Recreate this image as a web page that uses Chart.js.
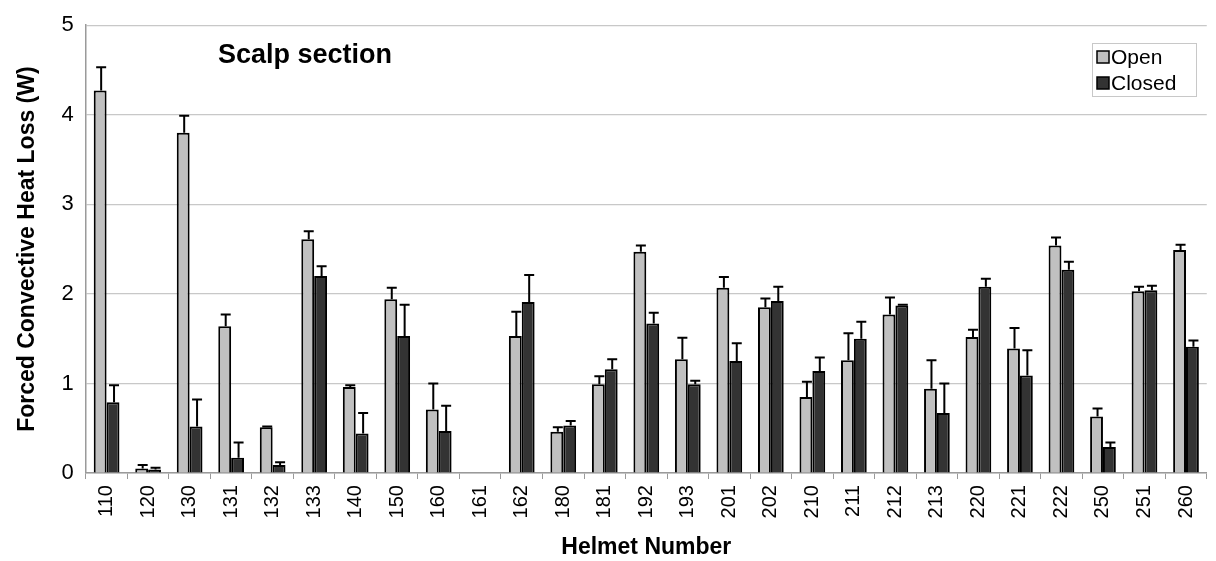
<!DOCTYPE html>
<html>
<head>
<meta charset="utf-8">
<script src="https://cdn.jsdelivr.net/npm/chart.js@4.4.1/dist/chart.umd.min.js"></script>
<style>
  html, body { margin: 0; padding: 0; background: #fff; }
  #wrap { width: 1216px; height: 561px; }
</style>
</head>
<body>
<div id="wrap"><canvas id="chart"></canvas></div>
<script>
// helmet numbers
const helmets = ["110","120","130","131","132","133","140","150","160","161","162","180","181","192","193","201","202","210","211","212","213","220","221","222","250","251","260"];

// mean forced convective heat loss (W)
const openValues = [4.27,0.05,3.80,1.64,0.51,2.61,0.96,1.94,0.71,0.005,1.53,0.46,0.99,2.47,1.27,2.07,1.85,0.85,1.26,1.77,0.94,1.52,1.39,2.54,0.63,2.03,2.49];
const closedValues = [0.79,0.04,0.52,0.17,0.09,2.20,0.44,1.53,0.47,0.005,1.91,0.53,1.16,1.67,0.99,1.25,1.92,1.14,1.50,1.87,0.67,2.08,1.09,2.27,0.29,2.04,1.41];

// upper error (sd)
const openErr = [0.26,0.04,0.19,0.13,0.01,0.09,0.02,0.13,0.29,0,0.27,0.05,0.09,0.07,0.24,0.12,0.10,0.17,0.30,0.19,0.32,0.08,0.23,0.09,0.09,0.05,0.06];
const closedErr = [0.19,0.02,0.30,0.17,0.03,0.11,0.23,0.35,0.28,0,0.30,0.05,0.11,0.12,0.04,0.20,0.16,0.15,0.19,0.01,0.33,0.09,0.28,0.09,0.05,0.05,0.07];

const yTicks = [0, 1, 2, 3, 4, 5];

const FONT = "'Liberation Sans', Arial, sans-serif";

// draws the upper error bars on top of each bar
const errorBars = {
	id: "errorBars",
	afterDatasetsDraw(chart) {
		const ctx = chart.ctx;
		const yScale = chart.scales.y;
		const errs = [openErr, closedErr];
		ctx.save();
		ctx.strokeStyle = "#000";
		ctx.lineWidth = 2;
		chart.data.datasets.forEach((ds, i) => {
			const meta = chart.getDatasetMeta(i);
			meta.data.forEach((bar, j) => {
				const e = errs[i][j];
				if (!e) return;
				const yTop = yScale.getPixelForValue(ds.data[j] + e);
				const x = bar.x + 1;
				ctx.beginPath();
				ctx.moveTo(x, bar.y);
				ctx.lineTo(x, yTop);
				ctx.moveTo(x - 5, yTop);
				ctx.lineTo(x + 5, yTop);
				ctx.stroke();
			});
		});
		ctx.restore();
	}
};

// section label and boxed legend inside the plot
const overlay = {
	id: "overlay",
	afterDraw(chart) {
		const ctx = chart.ctx;
		ctx.save();
		ctx.fillStyle = "#000";
		ctx.font = "bold 27px " + FONT;
		ctx.textBaseline = "middle";
		ctx.fillText("Scalp section", 218, 56);

		// legend box
		const bx = 1092, by = 43, bw = 104, bh = 53;
		ctx.strokeStyle = "#c8c8c8";
		ctx.lineWidth = 1;
		ctx.strokeRect(bx + 0.5, by + 0.5, bw, bh);
		ctx.font = "21px " + FONT;
		chart.data.datasets.forEach((ds, i) => {
			const cy = by + 14 + i * 26;
			ctx.fillStyle = ds.backgroundColor;
			ctx.fillRect(bx + 5, cy - 6, 12, 12);
			ctx.strokeStyle = "#000";
			ctx.lineWidth = 1.5;
			ctx.strokeRect(bx + 5, cy - 6, 12, 12);
			ctx.fillStyle = "#000";
			ctx.fillText(ds.label, bx + 19, cy + 1);
		});
		ctx.restore();
	}
};

new Chart(document.getElementById("chart"), {
	type: "bar",
	data: {
		labels: helmets,
		datasets: [
			{
				label: "Open",
				data: openValues,
				backgroundColor: "#c0c0c0",
				borderColor: "#000",
				borderWidth: 2,
				categoryPercentage: 0.62,
				barPercentage: 1.0
			},
			{
				label: "Closed",
				data: closedValues,
				backgroundColor: "#333333",
				borderColor: "#000",
				borderWidth: 2,
				categoryPercentage: 0.62,
				barPercentage: 1.0
			}
		]
	},
	options: {
		responsive: true,
		maintainAspectRatio: false,
		animation: false,
		layout: { padding: { top: 0, right: 0, left: 14, bottom: 0 } },
		plugins: {
			legend: { display: false },
			tooltip: { enabled: false }
		},
		scales: {
			x: {
				grid: {
					offset: true,
					drawOnChartArea: false,
					drawTicks: true,
					tickLength: 6,
					color: "#9a9a9a"
				},
				border: { color: "#9a9a9a", width: 1.5 },
				ticks: {
					color: "#000",
					minRotation: 90,
					maxRotation: 90,
					autoSkip: false,
					font: { family: FONT, size: 20 },
					padding: 6
				},
				title: {
					display: true,
					text: "Helmet Number",
					color: "#000",
					font: { family: FONT, size: 23, weight: "bold" },
					padding: { top: 9, bottom: 0 }
				}
			},
			y: {
				min: 0,
				max: 5,
				afterBuildTicks(scale) {
					scale.ticks = yTicks.map((v) => ({ value: v }));
				},
				grid: {
					color: "#c8c8c8",
					lineWidth: 1.2,
					drawTicks: false
				},
				border: { color: "#9a9a9a", width: 1.5 },
				ticks: {
					color: "#000",
					padding: 12,
					font: { family: FONT, size: 22 }
				},
				title: {
					display: true,
					text: "Forced Convective Heat Loss (W)",
					color: "#000",
					font: { family: FONT, size: 23, weight: "bold" },
					padding: { top: 0, bottom: 8 }
				}
			}
		}
	},
	plugins: [errorBars, overlay]
});
</script>
</body>
</html>
